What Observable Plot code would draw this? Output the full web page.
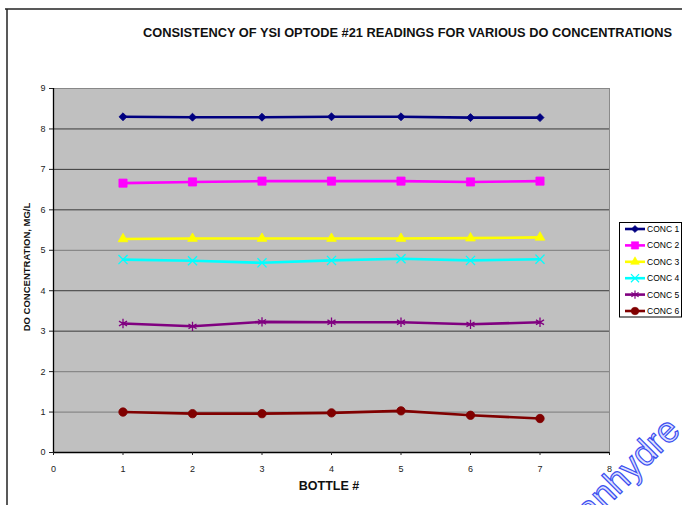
<!DOCTYPE html>
<html>
<head>
<meta charset="utf-8">
<script src="https://cdn.jsdelivr.net/npm/d3@7"></script>
<script src="https://cdn.jsdelivr.net/npm/@observablehq/plot@0.6"></script>
<style>
  html, body { margin: 0; padding: 0; background: #fff; }
  #wrap { position: relative; width: 682px; height: 505px; overflow: hidden; font-family: "Liberation Sans", Arial, sans-serif; }
  #wrap > svg { position: absolute; left: 0; top: 0; }
</style>
</head>
<body>
<div id="wrap"></div>
<script>
// ---- data ----
const bottles = [1, 2, 3, 4, 5, 6, 7];
const seriesNames = ["CONC 1", "CONC 2", "CONC 3", "CONC 4", "CONC 5", "CONC 6"];
const conc1 = [8.30, 8.29, 8.29, 8.30, 8.30, 8.28, 8.28];
const conc2 = [6.66, 6.69, 6.71, 6.71, 6.71, 6.69, 6.71];
const conc3 = [5.28, 5.29, 5.29, 5.29, 5.29, 5.30, 5.32];
const conc4 = [4.77, 4.74, 4.69, 4.75, 4.79, 4.75, 4.78];
const conc5 = [3.19, 3.12, 3.23, 3.22, 3.22, 3.17, 3.22];
const conc6 = [1.00, 0.96, 0.96, 0.98, 1.03, 0.92, 0.84];
const xTicks = [0, 1, 2, 3, 4, 5, 6, 7, 8];
const yTicks = [0, 1, 2, 3, 4, 5, 6, 7, 8, 9];
const titleText = "CONSISTENCY OF YSI OPTODE #21 READINGS FOR VARIOUS DO CONCENTRATIONS";
const xLabel = "BOTTLE #";
const yLabel = "DO CONCENTRATION, MG/L";

// ---- styles ----
const allValues = [conc1, conc2, conc3, conc4, conc5, conc6];
const styles = [
  {color: "#000080", symbol: "diamond2", r: 3.6, filled: true},
  {color: "#ff00ff", symbol: "square", r: 4.6, filled: true},
  {color: "#ffff00", symbol: "triangle", r: 3.6, filled: true},
  {color: "#00ffff", symbol: "times", r: 4.2, filled: false},
  {color: "#800080", symbol: "asterisk", r: 4.4, filled: false},
  {color: "#800000", symbol: "circle", r: 4.2, filled: true}
];
const lightGrid = new Set([9, 5, 2, 1]);

const seriesData = allValues.map((vals, i) => bottles.map((b, j) => ({bottle: b, value: vals[j], series: seriesNames[i]})));

const marks = [
  Plot.frame({fill: "#c0c0c0", stroke: "#8a8a8a"}),
  Plot.ruleY(yTicks.filter(v => v > 0 && !lightGrid.has(v)), {stroke: "#3a3a3a", strokeWidth: 1}),
  Plot.ruleY(yTicks.filter(v => lightGrid.has(v)), {stroke: "#888", strokeWidth: 1.2}),
  Plot.ruleX([0], {stroke: "#000", strokeWidth: 1.3}),
  Plot.ruleY([0], {stroke: "#000", strokeWidth: 1.3}),
  Plot.axisY({ticks: yTicks, tickSize: 4, tickPadding: 4, label: null, tickFormat: d => String(d)}),
  Plot.axisX({ticks: xTicks, tickSize: 3, tickPadding: 10, label: null, tickFormat: d => String(d)})
];
seriesData.forEach((d, i) => {
  const s = styles[i];
  marks.push(Plot.line(d, {x: "bottle", y: "value", stroke: s.color, strokeWidth: 2.6}));
  marks.push(Plot.dot(d, {
    x: "bottle", y: "value", symbol: s.symbol, r: s.r,
    fill: s.filled ? s.color : "none",
    stroke: s.color, strokeWidth: s.filled ? 0.8 : 1.3
  }));
});

const chart = Plot.plot({
  width: 682, height: 505,
  marginLeft: 53, marginRight: 73, marginTop: 88, marginBottom: 53,
  x: {domain: [0, 8]},
  y: {domain: [0, 9]},
  style: {fontFamily: "'Liberation Sans', Arial, sans-serif", fontSize: "9px", color: "#222", background: "transparent", overflow: "visible"},
  marks
});
const wrap = document.getElementById("wrap");
wrap.appendChild(chart);

// ---- overlay: frame, title, axis labels, legend, watermark ----
const ov = d3.select(wrap).append("svg").attr("width", 682).attr("height", 505)
  .style("font-family", "'Liberation Sans', Arial, sans-serif");

ov.append("line").attr("x1", 5).attr("x2", 682).attr("y1", 9).attr("y2", 9).attr("stroke", "#222").attr("stroke-width", 1.5);
ov.append("line").attr("x1", 7).attr("x2", 7).attr("y1", 9).attr("y2", 505).attr("stroke", "#222").attr("stroke-width", 1.5);

ov.append("text").attr("x", 143).attr("y", 37).attr("font-size", 12).attr("font-weight", "bold").attr("fill", "#111")
  .attr("textLength", 529).attr("lengthAdjust", "spacingAndGlyphs").text(titleText);

ov.append("text").attr("x", 329).attr("y", 490).attr("text-anchor", "middle").attr("font-size", 12.5)
  .attr("font-weight", "bold").attr("fill", "#111").text(xLabel);

ov.append("text").attr("transform", "translate(30,267) rotate(-90)").attr("text-anchor", "middle")
  .attr("font-size", 9.5).attr("font-weight", "bold").attr("fill", "#111").text(yLabel);

// legend
const lg = ov.append("g");
lg.append("rect").attr("x", 619.5).attr("y", 222.5).attr("width", 62).attr("height", 94.5)
  .attr("fill", "#fff").attr("stroke", "#000").attr("stroke-width", 1);
const symMap = {diamond2: d3.symbolDiamond2, square: d3.symbolSquare, triangle: d3.symbolTriangle,
  times: d3.symbolTimes, asterisk: d3.symbolAsterisk, circle: d3.symbolCircle};
seriesNames.forEach((name, i) => {
  const s = styles[i];
  const y = 229 + i * 16.4;
  lg.append("line").attr("x1", 625).attr("x2", 645).attr("y1", y).attr("y2", y)
    .attr("stroke", s.color).attr("stroke-width", 2.6);
  lg.append("path").attr("transform", `translate(635,${y})`)
    .attr("d", d3.symbol(symMap[s.symbol], Math.PI * s.r * s.r * 0.8)())
    .attr("fill", s.filled ? s.color : "none").attr("stroke", s.color).attr("stroke-width", s.filled ? 0.6 : 1.2);
  lg.append("text").attr("x", 647).attr("y", y + 3).attr("font-size", 8.5).attr("fill", "#000").text(name);
});

// watermark
ov.append("text").attr("transform", "translate(590,524) rotate(-45)")
  .attr("font-size", 36).attr("fill", "#dde1ff").attr("stroke", "#3d50f0").attr("stroke-width", 1.2)
  .text("anhydre");
</script>
</body>
</html>
